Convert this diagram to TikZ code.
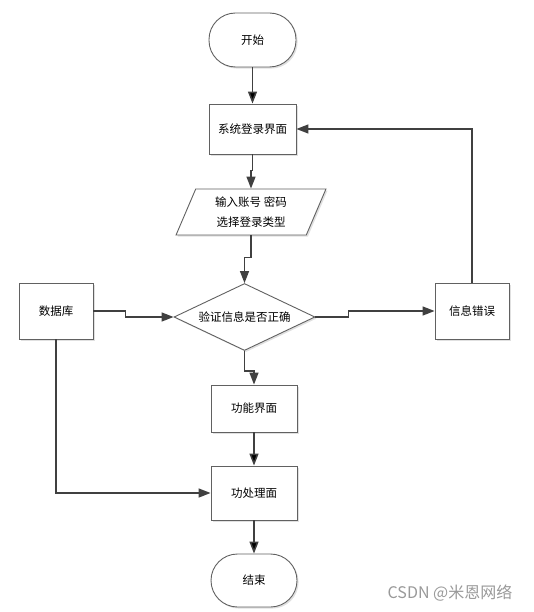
\documentclass[tikz,border=0pt]{standalone}
\usepackage{fontspec}
\setmainfont{Noto Sans CJK SC}
\usetikzlibrary{arrows.meta,shapes.geometric,shadows}

\begin{document}
\begin{tikzpicture}[x=1pt,y=-1pt,
		box/.style={draw=black!62, line width=0.9pt, fill=white, inner sep=0pt,
			drop shadow={shadow xshift=1.6pt, shadow yshift=-1.6pt, fill=black!12, opacity=1},
			font=\fontsize{11.5}{20}\selectfont, align=center},
		term/.style={box, rounded corners=26.5pt},
		flow/.style={draw=black!75, line width=1.5pt, -{Triangle[length=12pt,width=9pt]}}
	]
		\useasboundingbox (0,0) rectangle (533,612);

		\draw (252.5,40) node[term, minimum width=87pt, minimum height=54pt] (start) {开始};
		\draw (252.5,129) node[box, minimum width=87pt, minimum height=50pt] (sys) {系统登录界面};
		\draw (251,212) node[box, trapezium, trapezium left angle=67.5, trapezium right angle=112.5,
			trapezium stretches=true, minimum width=150pt, minimum height=46pt] (input) {输入账号 密码\\选择登录类型};
		\draw (244.5,317) node[box, diamond, aspect=2.1, minimum width=141pt, minimum height=67pt] (check) {验证信息是否正确};
		\draw (56,311) node[box, minimum width=74pt, minimum height=56pt] (db) {数据库};
		\draw (472,311) node[box, minimum width=74pt, minimum height=56pt] (err) {信息错误};
		\draw (254,408.5) node[box, minimum width=86pt, minimum height=47pt] (func) {功能界面};
		\draw (254,493) node[box, minimum width=86pt, minimum height=54pt] (proc) {功处理面};
		\draw (254,580.5) node[term, minimum width=86pt, minimum height=53pt] (stop) {结束};

		\path[flow]
		(start) edge node {} (sys)
		(func) edge node {} (proc)
		(proc) edge node {} (stop)
		;
		\draw[flow] (sys.south) -- ++(0,16) -| (input.north);
		\draw[flow] (input.south) -- ++(0,22) -| (check.north);
		\draw[flow] (check.south) -- ++(0,20) -| (func.north);
		\draw[flow] (db.east) -- ++(32,0) |- (check.west);
		\draw[flow] (check.east) -- ++(33,0) |- (err.west);
		\draw[flow] (err.north) |- (sys.east);
		\draw[flow] (db.south) |- (proc.west);

		\draw (450,593) node[text=black!40, font=\fontsize{16}{18}\selectfont] (mark) {CSDN @米恩网络};
	\end{tikzpicture}
\end{document}
